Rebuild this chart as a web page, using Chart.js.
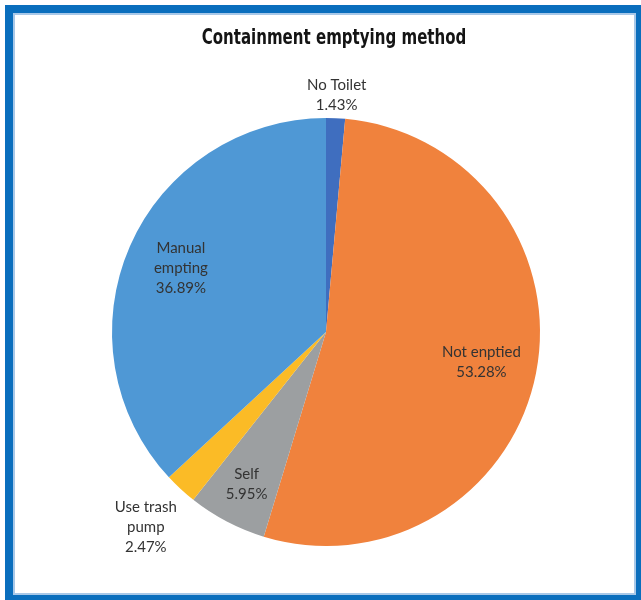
<!DOCTYPE html>
<html>
<head>
<meta charset="utf-8">
<script src="https://cdn.jsdelivr.net/npm/chart.js@4/dist/chart.umd.min.js"></script>
<style>
  html, body { margin: 0; padding: 0; background: #fff; overflow: hidden; }
  #frame {
    position: absolute; left: 5px; top: 5px; width: 623px; height: 582px;
    border: 8px solid #0a6ebd;
    box-shadow: inset 0 0 0 2px #a8c8e8;
  }
  #chart { position: absolute; left: 0; top: 0; }
</style>
</head>
<body>
<div id="frame"></div>
<canvas id="chart" width="641" height="600"></canvas>
<script>
'use strict';
var chartTitle = 'Containment emptying method';
// categories (multi-line labels as drawn in the picture)
var categories = [['No Toilet'], ['Not enptied'], ['Self'], ['Use trash', 'pump'], ['Manual', 'empting']];
var shares = [1.43, 53.28, 5.95, 2.47, 36.89];
var sliceColors = ['#3f6ebf', '#f0823d', '#9c9fa1', '#fbbb26', '#4f98d5'];
// how far from the centre each label sits, as a fraction of the radius
var labelRadius = [1.11, 0.74, 0.8, 1.24, 0.74];

// narrow bold title (no condensed font installed, so squeeze it)
var narrowTitle = {
  id: 'narrowTitle',
  afterDraw: function(chart) {
    var ctx = chart.ctx;
    ctx.save();
    ctx.font = 'bold 22px "DejaVu Sans Condensed", "DejaVu Sans", sans-serif';
    ctx.fillStyle = '#141414';
    ctx.textAlign = 'center';
    ctx.textBaseline = 'middle';
    ctx.translate(334, 38);
    ctx.scale(0.76, 1);
    ctx.fillText(chartTitle, 0, 0);
    ctx.restore();
  }
};

// draws "name / value%" on each slice
var sliceLabels = {
  id: 'sliceLabels',
  afterDatasetsDraw: function(chart) {
    var ctx = chart.ctx;
    var meta = chart.getDatasetMeta(0);
    ctx.save();
    ctx.font = '15px Lato, "Liberation Sans", sans-serif';
    ctx.fillStyle = '#333333';
    ctx.textAlign = 'center';
    ctx.textBaseline = 'middle';
    meta.data.forEach(function(arc, i) {
      var p = arc.getProps(['x', 'y', 'startAngle', 'endAngle', 'outerRadius'], true);
      var mid = (p.startAngle + p.endAngle) / 2;
      var r = p.outerRadius * labelRadius[i];
      var cx = p.x + Math.cos(mid) * r;
      var cy = p.y + Math.sin(mid) * r;
      var lines = categories[i].concat([shares[i].toFixed(2) + '%']);
      var lh = 20;
      var y0 = cy - (lines.length - 1) * lh / 2;
      for (var k = 0; k < lines.length; k++) {
        ctx.fillText(lines[k], cx, y0 + k * lh);
      }
    });
    ctx.restore();
  }
};

var ctx = document.getElementById('chart');
var myChart = new Chart(ctx, {
  type: 'pie',
  data: {
    labels: categories,
    datasets: [{
      data: shares,
      backgroundColor: sliceColors,
      borderWidth: 0
    }]
  },
  options: {
    responsive: false,
    animation: false,
    devicePixelRatio: 1,
    layout: { padding: { left: 112, right: 101, top: 118, bottom: 54 } },
    plugins: {
      legend: { display: false },
      tooltip: { enabled: false },
      title: { display: false }
    }
  },
  plugins: [sliceLabels, narrowTitle]
});
</script>
</body>
</html>
